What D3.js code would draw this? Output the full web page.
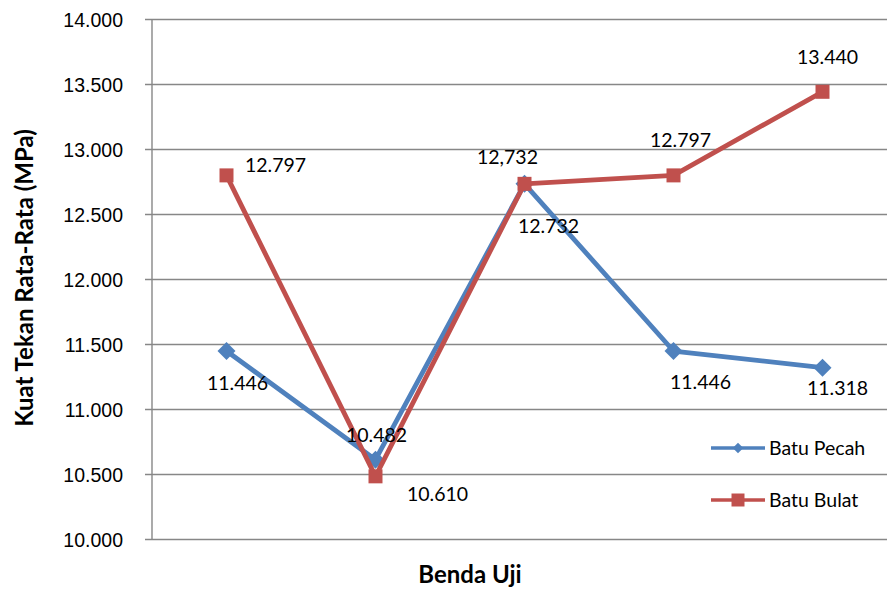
<!DOCTYPE html>
<html>
<head>
<meta charset="utf-8">
<script src="https://cdn.jsdelivr.net/npm/d3@7"></script>
<style>
  html, body { margin: 0; padding: 0; background: #fff; }
  svg { display: block; font-family: Lato, "Open Sans", sans-serif; }
</style>
</head>
<body>
<svg id="chart" width="887" height="590"></svg>
<script>
// Specimen groups (x) and mean compressive strength (MPa) per aggregate type
const categories = ["1", "2", "3", "4", "5"];
const batuPecah = [11.446, 10.610, 12.732, 11.446, 11.318];
const batuBulat = [12.797, 10.482, 12.732, 12.797, 13.440];
const pecahLabels = ["11.446", "10.610", "12.732", "11.446", "11.318"];
const bulatLabels = ["12.797", "10.482", "12,732", "12.797", "13.440"];
const yTicks = [10, 10.5, 11, 11.5, 12, 12.5, 13, 13.5, 14];
const seriesNames = ["Batu Pecah", "Batu Bulat"];

// Label offsets (px) from each marker, keeping labels clear of the lines
const pecahOffsets = [[11, 32], [62, 34], [24, 42], [27, 31], [15, 20]];
const bulatOffsets = [[49, -10], [1, -41], [-17, -27], [7, -35], [5, -35]];

const svg = d3.select("#chart");
const plot = { left: 152, right: 897, top: 19, bottom: 539 };

const x = d3.scaleBand().domain(categories).range([plot.left, plot.right]);
const y = d3.scaleLinear().domain([10, 14]).range([plot.bottom, plot.top]);
const fmt = d3.format(".3f");

const gridColor = "#878787";
const labelSize = "19.5px";

// Horizontal gridlines with ticks on the left
const yAxis = d3.axisLeft(y).tickValues(yTicks)
  .tickSize(-(plot.right - plot.left))
  .tickFormat(d => fmt(d));
const gy = svg.append("g").attr("transform", `translate(${plot.left},0)`).call(yAxis);
gy.select(".domain").remove();
gy.selectAll(".tick line").attr("stroke", gridColor).attr("stroke-width", 1.4).attr("x1", -7);
gy.selectAll(".tick text").attr("fill", "#000").style("font-size", labelSize)
  .attr("x", -29).attr("dy", "0.36em");

// Vertical axis line
svg.append("line")
  .attr("x1", plot.left).attr("x2", plot.left)
  .attr("y1", plot.top).attr("y2", plot.bottom)
  .attr("stroke", gridColor).attr("stroke-width", 1.4);

// Axis titles
svg.append("text")
  .attr("x", 470).attr("y", 583)
  .attr("text-anchor", "middle")
  .style("font-size", "24px").style("font-weight", "bold")
  .text("Benda Uji");
svg.append("text")
  .attr("transform", "translate(33,278) rotate(-90)")
  .attr("text-anchor", "middle")
  .style("font-size", "24px").style("font-weight", "bold")
  .text("Kuat Tekan Rata-Rata (MPa)");

const cx = c => x(c) + x.bandwidth() / 2;

// Diamond drawn as a square turned 45 degrees
const diamond = {
  draw(ctx, size) {
    const r = Math.sqrt(size / 2);
    ctx.moveTo(0, -r); ctx.lineTo(r, 0); ctx.lineTo(0, r); ctx.lineTo(-r, 0); ctx.closePath();
  }
};

const series = [
  { name: seriesNames[0], values: batuPecah, labels: pecahLabels, offsets: pecahOffsets,
    color: "#4F81BD", symbol: diamond, size: 162, legendSize: 55 },
  { name: seriesNames[1], values: batuBulat, labels: bulatLabels, offsets: bulatOffsets,
    color: "#C0504D", symbol: d3.symbolSquare, size: 196, legendSize: 169 }
];

const line = d3.line().x((d, i) => cx(categories[i])).y(d => y(d));

series.forEach(s => {
  const g = svg.append("g");
  g.append("path")
    .attr("d", line(s.values))
    .attr("fill", "none")
    .attr("stroke", s.color)
    .attr("stroke-width", 4.8)
    .attr("stroke-linejoin", "round");
  g.selectAll("path.marker")
    .data(s.values)
    .join("path")
    .attr("class", "marker")
    .attr("d", d3.symbol().type(s.symbol).size(s.size))
    .attr("transform", (d, i) => `translate(${cx(categories[i])},${y(d)})`)
    .attr("fill", s.color);
});

// Data labels
series.forEach(s => {
  svg.append("g").selectAll("text")
    .data(s.values)
    .join("text")
    .attr("x", (d, i) => cx(categories[i]) + s.offsets[i][0])
    .attr("y", (d, i) => y(d) + s.offsets[i][1])
    .attr("dy", "0.36em")
    .attr("text-anchor", "middle")
    .style("font-size", labelSize)
    .attr("fill", "#000")
    .text((d, i) => s.labels[i]);
});

// Legend
const legend = svg.append("g").attr("transform", "translate(711,448)");
series.forEach((s, i) => {
  const row = legend.append("g").attr("transform", `translate(0,${i * 52})`);
  row.append("line").attr("x1", 0).attr("x2", 54).attr("y1", 0).attr("y2", 0)
    .attr("stroke", s.color).attr("stroke-width", 3.3);
  row.append("path")
    .attr("d", d3.symbol().type(s.symbol).size(s.legendSize))
    .attr("transform", "translate(27,0)")
    .attr("fill", s.color);
  row.append("text").attr("x", 58).attr("y", 0).attr("dy", "0.36em")
    .style("font-size", labelSize).attr("fill", "#000").text(s.name);
});
</script>
</body>
</html>
